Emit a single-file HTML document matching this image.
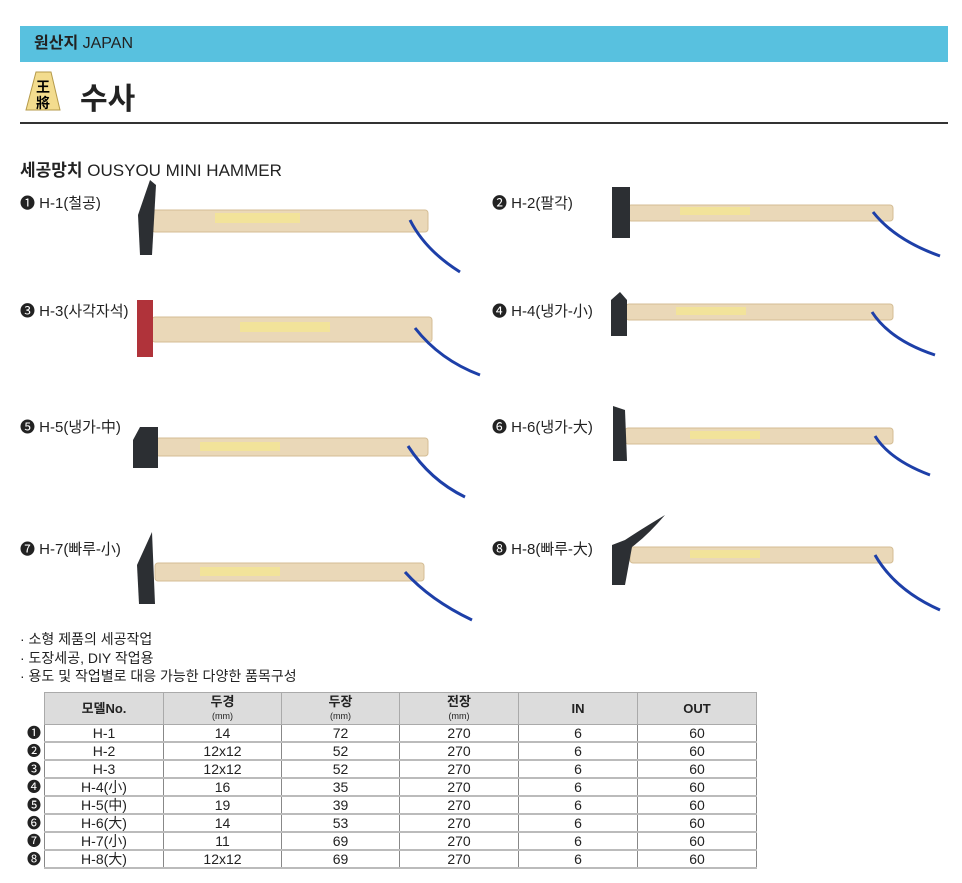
<!DOCTYPE html>
<html><head><meta charset="utf-8"><style>
body{margin:0;width:962px;height:883px;background:#fff;position:relative;overflow:hidden;font-family:"Liberation Sans","Noto Sans CJK KR",sans-serif;color:#222}
.a{position:absolute;white-space:nowrap}
table{position:absolute;left:44px;top:692px;border-collapse:collapse;font-size:14px}
td{border-left:1px solid #888;border-right:1px solid #888;border-bottom:2px solid #bbb;text-align:center;height:16px;padding:0;line-height:16px}
th{background:#dcdcdc;border:1px solid #aaa;height:31px;font-size:13px;font-weight:bold;line-height:13px;padding:0}
th small{font-weight:normal;font-size:9px}
.n{position:absolute;left:27px;font-size:14px;line-height:18px}
</style></head><body>
<div class="a" style="left:20px;top:26px;width:928px;height:36px;background:#58c1df"></div>
<div class="a" style="left:34px;top:34px;font-size:16px;line-height:20px"><b>원산지</b> JAPAN</div>
<svg class="a" style="left:24px;top:70px" width="40" height="44"><polygon points="12,2 27,2 36,40 2,40" fill="#f3dc8e" stroke="#b59a4a"/><text x="19" y="22" font-size="14" font-weight="bold" text-anchor="middle" font-family="Noto Sans CJK SC">王</text><text x="19" y="38" font-size="14" font-weight="bold" text-anchor="middle" font-family="Noto Sans CJK SC">將</text></svg>
<div class="a" style="left:80px;top:74px;font-size:30px;font-weight:bold">수사</div>
<div class="a" style="left:20px;top:122px;width:928px;height:2px;background:#333"></div>
<div class="a" style="left:20px;top:156px;font-size:17px"><b>세공망치</b> OUSYOU MINI HAMMER</div>
<div class="a" style="left:20px;top:192px;font-size:15px">❶ H-1(철공)</div>
<div class="a" style="left:492px;top:192px;font-size:15px">❷ H-2(팔각)</div>
<div class="a" style="left:20px;top:300px;font-size:15px">❸ H-3(사각자석)</div>
<div class="a" style="left:492px;top:300px;font-size:15px">❹ H-4(냉가-小)</div>
<div class="a" style="left:20px;top:416px;font-size:15px">❺ H-5(냉가-中)</div>
<div class="a" style="left:492px;top:416px;font-size:15px">❻ H-6(냉가-大)</div>
<div class="a" style="left:20px;top:538px;font-size:15px">❼ H-7(빠루-小)</div>
<div class="a" style="left:492px;top:538px;font-size:15px">❽ H-8(빠루-大)</div>
<svg class="a" style="left:0;top:0" width="962" height="640">
<g fill="#ead8b8" stroke="#d4bd94">
<rect x="152" y="210" width="276" height="22" rx="3"/>
<rect x="628" y="205" width="265" height="16" rx="3"/>
<rect x="152" y="317" width="280" height="25" rx="3"/>
<rect x="626" y="304" width="267" height="16" rx="3"/>
<rect x="156" y="438" width="272" height="18" rx="3"/>
<rect x="625" y="428" width="268" height="16" rx="3"/>
<rect x="155" y="563" width="269" height="18" rx="3"/>
<rect x="630" y="547" width="263" height="16" rx="3"/>
</g>
<g fill="#f2e39a"><rect x="215" y="213" width="85" height="10"/><rect x="680" y="207" width="70" height="8"/><rect x="240" y="322" width="90" height="10"/><rect x="676" y="307" width="70" height="8"/><rect x="200" y="442" width="80" height="9"/><rect x="690" y="431" width="70" height="8"/><rect x="200" y="567" width="80" height="9"/><rect x="690" y="550" width="70" height="8"/></g>
<g fill="#2c2f33">
<polygon points="138,215 150,180 156,185 152,255 140,255"/>
<rect x="612" y="187" width="18" height="51"/>
<rect x="137" y="300" width="16" height="57" fill="#b0333a"/>
<polygon points="611,300 620,292 627,300 627,336 611,336"/>
<polygon points="133,440 140,427 158,427 158,468 133,468"/>
<polygon points="613,406 625,410 627,461 613,461"/>
<polygon points="137,565 152,532 155,604 139,604"/>
<path d="M612 545 L612 585 L625 585 L632 547 Q648 535 665 515 Q640 530 625 540 Z"/>
</g>
<g stroke="#1d3fa8" stroke-width="3" fill="none">
<path d="M410 220 Q425 250 460 272"/><path d="M873 212 Q895 240 940 256"/><path d="M415 328 Q440 360 480 375"/><path d="M872 312 Q890 340 935 355"/><path d="M408 446 Q430 480 465 497"/><path d="M875 436 Q890 460 930 475"/><path d="M405 572 Q430 600 472 620"/><path d="M875 555 Q895 590 940 610"/>
</g>
</svg>
<div class="a" style="left:20px;top:630px;font-size:14px;line-height:18.5px">· 소형 제품의 세공작업<br>· 도장세공, DIY 작업용<br>· 용도 및 작업별로 대응 가능한 다양한 품목구성</div>
<div class="n" style="top:724px;line-height:18px">❶<br>❷<br>❸<br>❹<br>❺<br>❻<br>❼<br>❽</div>
<table>
<tr><th style="width:118px">모델No.</th><th style="width:117px">두경<br><small>(mm)</small></th><th style="width:117px">두장<br><small>(mm)</small></th><th style="width:118px">전장<br><small>(mm)</small></th><th style="width:118px">IN</th><th style="width:118px">OUT</th></tr>
<tr><td>H-1</td><td>14</td><td>72</td><td>270</td><td>6</td><td>60</td></tr>
<tr><td>H-2</td><td>12x12</td><td>52</td><td>270</td><td>6</td><td>60</td></tr>
<tr><td>H-3</td><td>12x12</td><td>52</td><td>270</td><td>6</td><td>60</td></tr>
<tr><td>H-4(小)</td><td>16</td><td>35</td><td>270</td><td>6</td><td>60</td></tr>
<tr><td>H-5(中)</td><td>19</td><td>39</td><td>270</td><td>6</td><td>60</td></tr>
<tr><td>H-6(大)</td><td>14</td><td>53</td><td>270</td><td>6</td><td>60</td></tr>
<tr><td>H-7(小)</td><td>11</td><td>69</td><td>270</td><td>6</td><td>60</td></tr>
<tr><td>H-8(大)</td><td>12x12</td><td>69</td><td>270</td><td>6</td><td>60</td></tr>
</table>
</body></html>
